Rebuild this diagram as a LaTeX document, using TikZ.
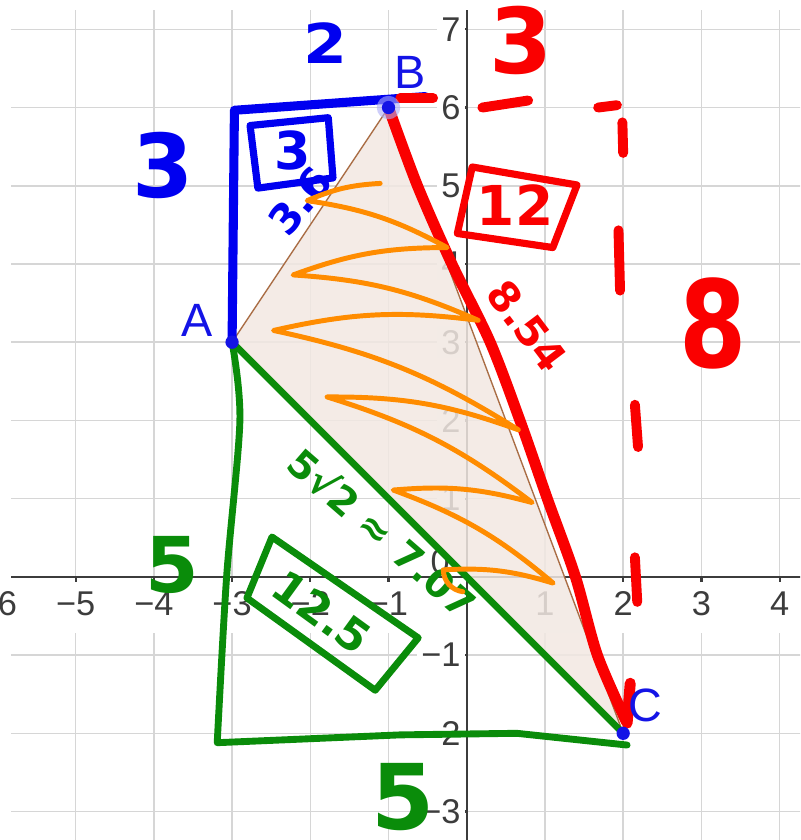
\documentclass[tikz,border=0pt]{standalone}
\usepackage{fontspec}
\setmainfont{Liberation Sans}
\newfontfamily\handfont{DejaVu Sans}

\definecolor{gridgray}{RGB}{214,214,214}
\definecolor{axisgray}{RGB}{60,60,60}
\definecolor{trifill}{RGB}{242,232,226}
\definecolor{triedge}{RGB}{170,110,70}
\definecolor{ptblue}{RGB}{20,20,230}
\definecolor{penblue}{RGB}{0,0,240}
\definecolor{penred}{RGB}{250,0,0}
\definecolor{pengreen}{RGB}{10,140,10}
\definecolor{penorange}{RGB}{255,140,0}

\tikzset{
  pen/.style={line width=#1, line cap=round, line join=round},
  hand/.style={font=\handfont\bfseries\fontsize{#1}{#1}\selectfont, inner sep=0pt},
  xlab/.style={anchor=north, inner sep=0pt, text=axisgray, font=\fontsize{12.5}{14}\selectfont},
  ylab/.style={anchor=east, fill=white, inner sep=1.5pt, text=axisgray, font=\fontsize{12.5}{14}\selectfont},
  ptlab/.style={text=ptblue, inner sep=0pt, font=\fontsize{17}{19}\selectfont},
  ptdot/.style={circle, fill=ptblue, inner sep=0pt, minimum size=0.17cm}
}

\begin{document}
\begin{tikzpicture}[x=1cm,y=1cm]
\useasboundingbox (-5.967,-3.364) rectangle (4.263,7.375);
\clip (-5.967,-3.364) rectangle (4.263,7.375);

\coordinate (A) at (-3,3);
\coordinate (B) at (-1,6);
\coordinate (C) at (2,-2);

\foreach \x in {-6,...,4}
  \draw[gridgray, line width=0.55pt] (\x,-3.4) -- (\x,7.25);
\foreach \y in {-3,...,7}
  \draw[gridgray, line width=0.55pt] (-5.82,\y) -- (4.3,\y);
\fill[white] (-6,-0.03) rectangle (4.3,-0.72);

\draw[axisgray, line width=0.8pt] (-5.82,0) -- (4.3,0);
\draw[axisgray, line width=0.8pt] (0,-3.4) -- (0,7.25);
\foreach \x in {-6,...,-1,1,2,3,4}
  \draw[axisgray, line width=0.8pt] (\x,0) -- (\x,-0.07);
\foreach \y in {-3,...,-1,1,2,...,7}
  \draw[axisgray, line width=0.8pt] (0,\y) -- (-0.07,\y);

\foreach \x in {-6,...,-1}
  \node[xlab] (xl\x) at (\x,-0.18) {−\the\numexpr-\x\relax};
\foreach \x in {1,...,4}
  \node[xlab] (xl\x) at (\x,-0.18) {\x};
\foreach \y in {1,...,7}
  \node[ylab] (yl\y) at (-0.02,\y) {\y\hspace{5pt}};
\foreach \y in {1,2,3}
  \node[ylab] (ylm\y) at (-0.02,-\y) {−\y\hspace{5pt}};
\node[text=axisgray, inner sep=0pt, font=\fontsize{12.5}{14}\selectfont] (orig) at (-0.34,0.2) {0};

\fill[trifill, opacity=0.85] (A) -- (B) -- (C) -- cycle;
\draw[triedge, line width=0.5pt] (A) -- (B) -- (C) -- cycle;

\draw[pen=3.3pt, penblue] (A) -- (-2.97,5.965) -- (-0.53,6.14);
\draw[pen=2.6pt, penblue] (-2.77,5.77) -- (-1.77,5.87) -- (-1.71,5.10) -- (-2.67,4.97) -- cycle;
\node[hand=20, text=penblue, xscale=1.15] (two) at (-1.81,6.83) {2};
\node[hand=32, text=penblue] (three) at (-3.88,5.26) {3};
\node[hand=19, text=penblue] (boxthree) at (-2.23,5.45) {3};
\node[hand=15, text=penblue, rotate=50] (ab) at (-2.13,4.81) {3.6};

\draw[pen=4pt, penred] plot[smooth] coordinates {(B) (-0.63,5) (-0.19,4) (0.30,3) (0.68,2) (1.03,1) (1.39,0) (1.67,-1) (2.04,-1.85)};
\draw[pen=4pt, penred] (2.09,-1.36) -- (2.05,-1.87);
\draw[pen=3.6pt, penred] (-0.85,6.12) -- (-0.43,6.12);
\draw[pen=3.6pt, penred] (0.20,6.00) -- (0.785,6.09);
\draw[pen=3.6pt, penred] (1.68,6.00) -- (1.92,6.03);
\draw[pen=3.6pt, penred] (1.99,5.81) -- (2.00,5.42);
\draw[pen=3.6pt, penred] (1.94,4.43) -- (1.96,3.66);
\draw[pen=3.6pt, penred] (2.15,2.20) -- (2.19,1.66);
\draw[pen=3.6pt, penred] (2.15,0.25) -- (2.18,-0.32);
\draw[pen=2.6pt, penred] (0.07,5.24) -- (1.41,5.01) -- (1.10,4.21) -- (-0.12,4.39) -- cycle;
\node[hand=33, text=penred] (topthree) at (0.70,6.86) {3};
\node[hand=20, text=penred] (bc) at (0.62,4.75) {12};
\node[hand=15, text=penred, rotate=-53] (bclen) at (0.77,3.21) {8.54};
\node[hand=44, text=penred, xscale=0.8] (eight) at (3.15,3.24) {8};

\draw[pen=2.5pt, pengreen] (A) -- (C);
\draw[pen=2.5pt, pengreen] plot[smooth] coordinates {(A) (-2.90,2.0) (-3.07,0) (-3.19,-2.12)}
  -- (-0.85,-2.02) -- (0.64,-2.0) -- (2.05,-2.15);
\draw[pen=2.5pt, pengreen] (-2.49,0.51) -- (-0.62,-0.78) -- (-1.17,-1.45) -- (-2.81,-0.27) -- cycle;
\node[hand=28, text=pengreen] (leftfive) at (-3.77,0.15) {5};
\node[hand=33, text=pengreen] (botfive) at (-0.81,-2.82) {5};
\node[hand=16, text=pengreen, rotate=-36] (ac) at (-1.85,-0.45) {12.5};
\node[hand=14, text=pengreen, rotate=-41] (aclen) at (-1.07,0.57) {5√2 ≈ 7.07};

\draw[pen=1.8pt, penorange] (-1.107,5.03) to[bend right=10] (-2.04,4.81)
  to[bend left=10] (-0.25,4.21) to[bend right=10] (-2.22,3.86)
  to[bend left=10] (0.146,3.28) to[bend right=10] (-2.47,3.15)
  to[bend left=10] (0.66,1.88) to[bend right=10] (-1.785,2.30)
  to[bend left=10] (0.836,0.95) to[bend right=10] (-0.94,1.11)
  to[bend left=10] (1.105,-0.08) to[bend right=10] (-0.30,0.09)
  to[bend right=40] (-0.05,-0.19);

\fill[ptblue!35, opacity=0.6] (B) circle (0.15);
\node[ptdot] (dA) at (A) {};
\node[ptdot] (dB) at (B) {};
\node[ptdot] (dC) at (C) {};
\node[ptlab] (lA) at (-3.45,3.28) {A};
\node[ptlab] (lB) at (-0.72,6.45) {B};
\node[ptlab] (lC) at (2.28,-1.64) {C};
\end{tikzpicture}
\end{document}
